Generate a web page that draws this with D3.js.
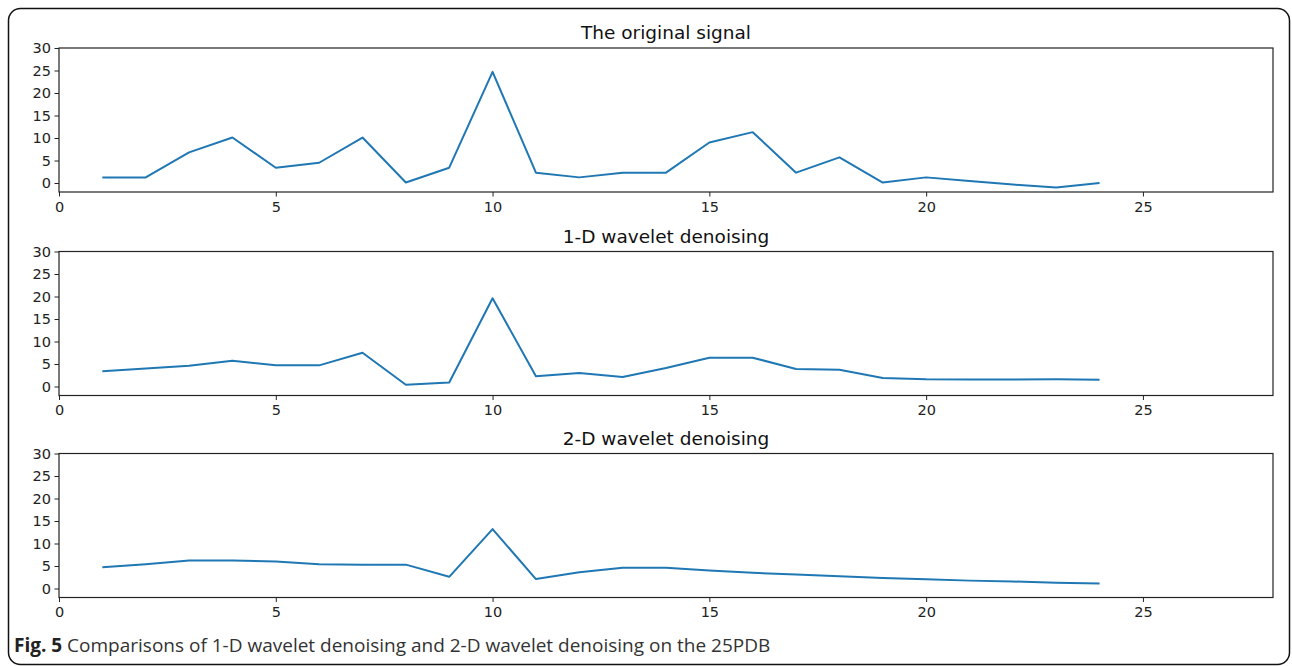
<!DOCTYPE html>
<html lang="en">
<head>
    <meta charset="UTF-8">
    <title>Wavelet denoising comparison</title>
    <script src="https://d3js.org/d3.v7.min.js"></script>
    <style>
        body { margin: 0; background: #fff; }
        .tick text { font-family: "DejaVu Sans", sans-serif; font-size: 14.5px; fill: #222; }
        .tick line { stroke: #222; }
        .domain { display: none; }
        .title { font-family: "DejaVu Sans", sans-serif; font-size: 18.5px; fill: #111; }
        .caption { font-family: "Open Sans", sans-serif; font-size: 19px; fill: #333; }
    </style>
</head>
<body>
<div id="chart"></div>
<script>
// values, x = 1..24
const steps = d3.range(1, 25);
const originalSignal = [1.25, 1.25, 6.8, 10.1, 3.4, 4.5, 10.1, 0.1, 3.4, 24.7, 2.3, 1.25,
    2.3, 2.3, 9.0, 11.3, 2.3, 5.7, 0.1, 1.25, 0.45, -0.35, -1.0, 0.0];
const denoised1D = [3.4, 4.0, 4.6, 5.7, 4.7, 4.7, 7.5, 0.4, 0.9, 19.6, 2.3, 3.0,
    2.1, 4.1, 6.4, 6.4, 3.9, 3.7, 1.9, 1.6, 1.55, 1.55, 1.6, 1.5];
const denoised2D = [4.7, 5.4, 6.2, 6.2, 6.0, 5.4, 5.3, 5.3, 2.6, 13.2, 2.1, 3.6,
    4.6, 4.6, 4.0, 3.5, 3.1, 2.7, 2.35, 2.05, 1.75, 1.55, 1.3, 1.1];
const panelTitles = ["The original signal", "1-D wavelet denoising", "2-D wavelet denoising"];
const xTicks = [0, 5, 10, 15, 20, 25];
const yTicks = [0, 5, 10, 15, 20, 25, 30];

const W = 1292, H = 666;
const svg = d3.select("#chart").append("svg")
    .attr("width", W)
    .attr("height", H);

// outer frame around figure
svg.append("rect")
    .attr("x", 8.5).attr("y", 8.5)
    .attr("width", 1281).attr("height", 656)
    .attr("rx", 12)
    .attr("fill", "none")
    .attr("stroke", "#111")
    .attr("stroke-width", 1.5);

const left = 59, right = 1273;
const panelTops = [48, 251.5, 453.5];
const panelH = 144;

const x = d3.scaleLinear().domain([0, 28]).range([left, right]);

const series = [originalSignal, denoised1D, denoised2D];

series.forEach((vals, i) => {
    const top = panelTops[i];
    const y = d3.scaleLinear().domain([-2, 30]).range([top + panelH, top]);
    const g = svg.append("g");

    g.append("g")
        .attr("transform", "translate(0," + (top + panelH) + ")")
        .call(d3.axisBottom(x).tickValues(xTicks).tickSize(4.5).tickPadding(5));

    g.append("g")
        .attr("transform", "translate(" + left + ",0)")
        .call(d3.axisLeft(y).tickValues(yTicks).tickSize(4.5).tickPadding(3.5));

    const line = d3.line()
        .x((d, j) => x(steps[j]))
        .y(d => y(d));

    g.append("path")
        .datum(vals)
        .attr("d", line)
        .attr("fill", "none")
        .attr("stroke", "#1f77b4")
        .attr("stroke-width", 2)
        .attr("stroke-linejoin", "round");

    g.append("rect")
        .attr("x", left).attr("y", top)
        .attr("width", right - left).attr("height", panelH)
        .attr("fill", "none")
        .attr("stroke", "#222")
        .attr("stroke-width", 1.2);

    g.append("text")
        .attr("class", "title")
        .attr("x", (left + right) / 2)
        .attr("y", top - 9)
        .attr("text-anchor", "middle")
        .text(panelTitles[i]);
});

// caption
const cap = svg.append("text")
    .attr("class", "caption")
    .attr("x", 14)
    .attr("y", 652);
cap.append("tspan").attr("font-weight", "bold").attr("fill", "#222").text("Fig. 5");
cap.append("tspan").text(" Comparisons of 1-D wavelet denoising and 2-D wavelet denoising on the 25PDB");
</script>
</body>
</html>
